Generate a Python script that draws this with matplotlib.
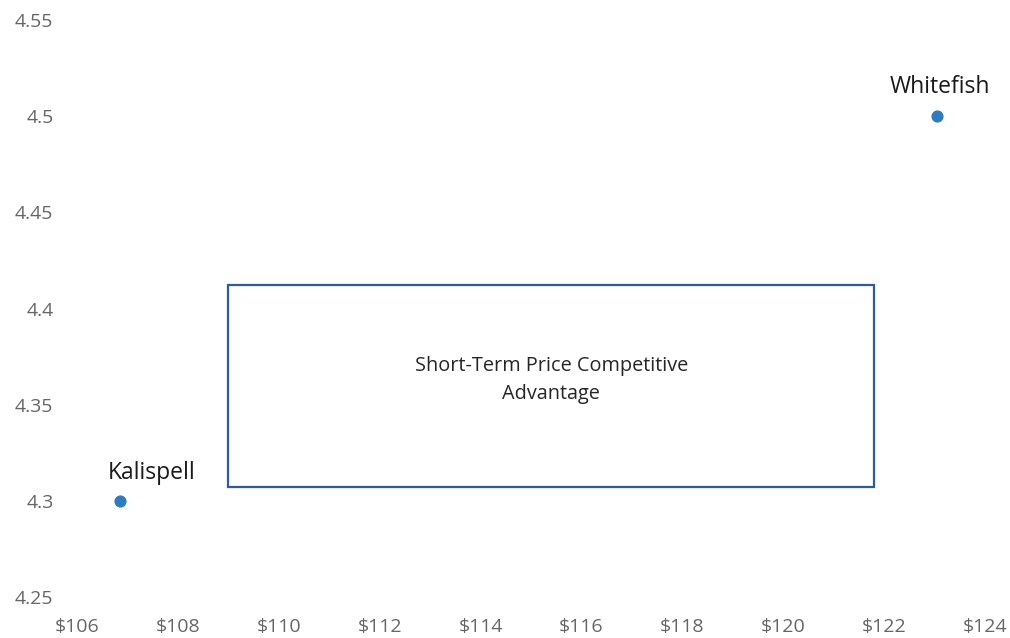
import matplotlib
matplotlib.use("Agg")
import matplotlib.pyplot as plt
from matplotlib.patches import Rectangle

cities = ["Kalispell", "Whitefish"]
price = [106.85, 123.05]
rating = [4.30, 4.50]

box_x = [109.0, 121.8]
box_y = [4.307, 4.412]
box_text = "Short-Term Price Competitive\nAdvantage"

xticks = [106, 108, 110, 112, 114, 116, 118, 120, 122, 124]
yticks = [4.25, 4.3, 4.35, 4.4, 4.45, 4.5, 4.55]
ytick_labels = ["4.25", "4.3", "4.35", "4.4", "4.45", "4.5", "4.55"]

plt.rcParams['font.family'] = ['Open Sans', 'DejaVu Sans']

fig = plt.figure(figsize=(10.1, 6.38), dpi=100)
ax = fig.add_axes([77/1010, 1-597/638, (985-77)/1010, (597-20)/638])

ax.scatter(price, rating, s=60, color="#2E7BC0", zorder=3)

offsets = [(23, 16), (2, 17)]
for c, x, y, off in zip(cities, price, rating, offsets):
    ax.annotate(c, (x, y), xytext=off, textcoords="offset points",
                ha="center", va="baseline", fontsize=16.5, color="#1a1a1a")

ax.add_patch(Rectangle((box_x[0], box_y[0]), box_x[1]-box_x[0], box_y[1]-box_y[0],
                       fill=False, edgecolor="#2F5A9E", linewidth=1.6, zorder=2))
ax.text((box_x[0]+box_x[1])/2, 4.3628, box_text, ha="center", va="center",
        fontsize=14.3, color="#262626", linespacing=1.48)

ax.set_xlim(106, 124)
ax.set_ylim(4.25, 4.55)
ax.set_xticks(xticks)
ax.set_xticklabels([f"${t}" for t in xticks])
ax.set_yticks(yticks)
ax.set_yticklabels(ytick_labels)
for s in ax.spines.values():
    s.set_visible(False)
ax.tick_params(axis="both", length=0, labelsize=14, labelcolor="#666666")
ax.tick_params(axis="x", pad=15)
ax.tick_params(axis="y", pad=17)

fig.savefig("out.png", dpi=100)
